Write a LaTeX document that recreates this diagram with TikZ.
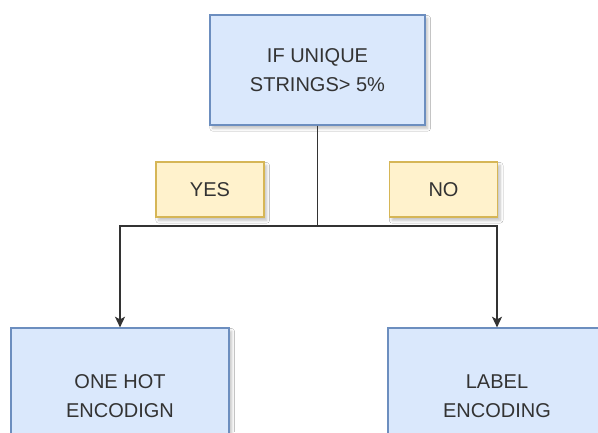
\documentclass[tikz,border=0pt]{standalone}
\usepackage{fontspec}
\setmainfont{Liberation Sans}
\usetikzlibrary{arrows.meta,shadows.blur}

\definecolor{stepblue}{HTML}{DAE8FC}
\definecolor{stepblueline}{HTML}{6C8EBF}
\definecolor{noteyellow}{HTML}{FFF2CC}
\definecolor{noteyellowline}{HTML}{D6B656}
\definecolor{inkgray}{HTML}{333333}

\begin{document}
\begin{tikzpicture}[
    x=0.75pt, y=-0.75pt,
    every node/.append style={font=\fontsize{15pt}{21.5pt}\selectfont, text=inkgray, align=center},
    decision/.style={rectangle, draw=stepblueline, fill=stepblue, line width=0.9pt,
        minimum width=#1, blur shadow={shadow xshift=2pt, shadow yshift=-2.5pt, shadow opacity=25, shadow blur steps=6}},
    answer/.style={rectangle, draw=noteyellowline, fill=noteyellow, line width=0.9pt,
        minimum width=81pt, minimum height=41.25pt,
        blur shadow={shadow xshift=2pt, shadow yshift=-2.5pt, shadow opacity=25, shadow blur steps=6}},
    branch/.style={draw=inkgray, line width=1.2pt, -{Stealth[length=8pt, width=7.5pt, inset=2pt]}}
]
    \clip (0,0) rectangle (598,432);
    \fill[white] (0,0) rectangle (598,432);

    % Condition
    \node[decision=161.25pt, minimum height=82.5pt] (check) at (317.5,70) {IF UNIQUE\\STRINGS> 5\%};

    % Answers
    \node[answer] (yes) at (210,189.5) {YES};
    \node[answer] (no) at (443.5,189.5) {NO};

    % Encodings
    \node[decision=163.5pt, minimum height=102pt] (onehot) at (120,396) {ONE HOT\\ENCODIGN};
    \node[decision=163.5pt, minimum height=102pt] (label) at (497,396) {LABEL\\ENCODING};

    % Branches
    \coordinate (split) at (317.5,226);
    \draw[branch] (check.south) -- (split) -| (onehot.north);
    \draw[branch] (check.south) -- (split) -| (label.north);

\end{tikzpicture}
\end{document}
